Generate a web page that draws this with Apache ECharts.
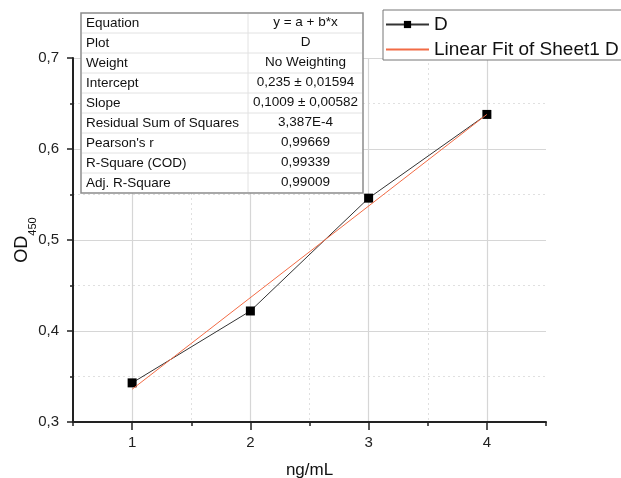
<!DOCTYPE html>
<html>
<head>
<meta charset="utf-8">
<script src="https://cdn.jsdelivr.net/npm/echarts@6/dist/echarts.min.js"></script>
<style>
  html, body { margin: 0; padding: 0; background: #fff; }
  #chart { width: 621px; height: 478px; }
</style>
</head>
<body>
<div id="chart"></div>
<script>
// measured points (ng/mL -> OD450)
const concX = [1, 2, 3, 4]
const odY = [0.343, 0.422, 0.546, 0.638]
// linear fit end points as drawn
const fitX = [1, 4]
const fitY = [0.336, 0.638]

const xLabels = [1, 2, 3, 4]

// fit report table
const tableKeys = ['Equation', 'Plot', 'Weight', 'Intercept', 'Slope', 'Residual Sum of Squares', "Pearson's r", 'R-Square (COD)', 'Adj. R-Square']
const tableVals = ['y = a + b*x', 'D', 'No Weighting', '0,235 ± 0,01594', '0,1009 ± 0,00582', '3,387E-4', '0,99669', '0,99339', '0,99009']

const FONT = '"Liberation Sans", Arial, sans-serif'

const chart = echarts.init(document.getElementById('chart'))

// table built from graphic elements
const tLeft = 81, tTop = 13, tW = 282, rowH = 20, colX = 248
const tableEls = [{
  type: 'rect',
  z: 100,
  shape: { x: tLeft, y: tTop, width: tW, height: rowH * tableKeys.length },
  style: { fill: '#fff', stroke: '#8c8c8c', lineWidth: 1.5 },
}]
tableKeys.forEach((k, i) => {
  const y = tTop + i * rowH
  if (i > 0) {
    tableEls.push({
      type: 'line',
      z: 101,
      shape: { x1: tLeft + 1, y1: y, x2: tLeft + tW - 1, y2: y },
      style: { stroke: '#e2e2e2', lineWidth: 1 },
    })
  }
  tableEls.push({
    type: 'text',
    z: 102,
    x: tLeft + 5, y: y + rowH / 2,
    style: { text: k, font: '13.5px ' + FONT, fill: '#111', verticalAlign: 'middle', align: 'left' },
  })
  tableEls.push({
    type: 'text',
    z: 102,
    x: (colX + tLeft + tW) / 2, y: y + rowH / 2 - 1,
    style: { text: tableVals[i], font: '13.5px ' + FONT, fill: '#111', verticalAlign: 'middle', align: 'center' },
  })
})
tableEls.push({
  type: 'line',
  z: 101,
  shape: { x1: colX, y1: tTop + 1, x2: colX, y2: tTop + rowH * tableKeys.length - 1 },
  style: { stroke: '#e2e2e2', lineWidth: 1 },
})

// legend frame (runs off the right edge like the original)
const legendFrame = {
  type: 'rect',
  z: 100,
  shape: { x: 383, y: 10, width: 300, height: 50 },
  style: { fill: '#fff', stroke: '#777', lineWidth: 1 },
}

const option = {
  animation: false,
  textStyle: { fontFamily: FONT },
  grid: { left: 73, right: 75, top: 58, bottom: 56, containLabel: false, outerBoundsMode: 'none' },
  legend: {
    orient: 'vertical',
    left: 383,
    top: 10,
    padding: [5, 3, 5, 2],
    itemWidth: 43,
    itemHeight: 9,
    itemGap: 6,
    textStyle: { fontSize: 19, color: '#111', fontFamily: FONT },
    data: [
      { name: 'D' },
      { name: 'Linear Fit of Sheet1 D', itemStyle: { opacity: 0 } },
    ],
    z: 200,
  },
  xAxis: {
    type: 'value',
    min: 0.5,
    max: 4.5,
    interval: 1,
    name: 'ng/mL',
    nameLocation: 'middle',
    nameGap: 40,
    nameMoveOverlap: false,
    nameTextStyle: { fontSize: 17, color: '#111' },
    axisLine: { show: true, onZero: false, lineStyle: { color: '#222', width: 2 } },
    axisTick: { show: true, length: 4, lineStyle: { color: '#222', width: 1.5 } },
    minorTick: { show: true, splitNumber: 2, length: 8, lineStyle: { color: '#222', width: 1.5 } },
    axisLabel: {
      customValues: xLabels,
      fontSize: 15, color: '#222', margin: 13,
      formatter: v => String(v),
    },
    splitLine: { show: true, showMinLine: false, showMaxLine: false, lineStyle: { color: '#e0e0e0', type: [2, 3], width: 1 } },
    minorSplitLine: { show: true, lineStyle: { color: '#d6d6d6', width: 1.2 } },
  },
  yAxis: {
    type: 'value',
    min: 0.3,
    max: 0.7,
    interval: 0.1,
    name: '{m|OD}{s|450}',
    nameLocation: 'middle',
    nameGap: 35,
    nameMoveOverlap: false,
    nameTextStyle: {
      color: '#111',
      rich: {
        m: { fontSize: 18, lineHeight: 18, verticalAlign: 'top', color: '#111', fontFamily: FONT },
        s: { fontSize: 11, lineHeight: 25, verticalAlign: 'bottom', color: '#111', fontFamily: FONT },
      },
    },
    axisLine: { show: true, lineStyle: { color: '#222', width: 2 } },
    axisTick: { show: true, length: 6, lineStyle: { color: '#222', width: 1.5 } },
    minorTick: { show: true, splitNumber: 2, length: 3, lineStyle: { color: '#222', width: 1.5 } },
    axisLabel: {
      fontSize: 15, color: '#222', margin: 14,
      formatter: v => v.toFixed(1).replace('.', ','),
    },
    splitLine: { show: true, showMinLine: false, lineStyle: { color: '#d6d6d6', width: 1.2 } },
    minorSplitLine: { show: true, lineStyle: { color: '#e0e0e0', type: [2, 3], width: 1 } },
  },
  series: [
    {
      name: 'D',
      type: 'line',
      data: concX.map((x, i) => [x, odY[i]]),
      symbol: 'rect',
      symbolSize: 9,
      itemStyle: { color: '#000' },
      lineStyle: { color: '#333', width: 1 },
      z: 3,
    },
    {
      name: 'Linear Fit of Sheet1 D',
      type: 'line',
      data: fitX.map((x, i) => [x, fitY[i]]),
      symbol: 'none',
      itemStyle: { color: '#f4785a' },
      lineStyle: { color: '#f26b45', width: 1 },
      z: 4,
    },
  ],
  graphic: [
    { type: 'group', z: 100, children: tableEls },
    legendFrame,
  ],
}

chart.setOption(option)
</script>
</body>
</html>
